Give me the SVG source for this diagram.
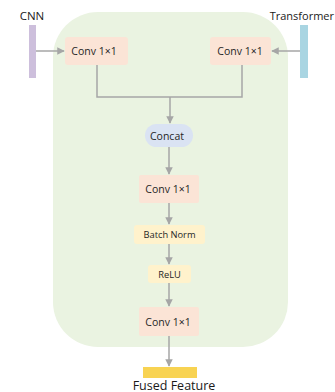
<svg xmlns="http://www.w3.org/2000/svg" width="335" height="392" viewBox="0 0 335 392">
<defs>
<style>
text{font-family:"Open Sans","Liberation Sans",sans-serif;fill:#262626;text-anchor:middle;dominant-baseline:central}
.lbl{font-size:10.5px}
.sm{font-size:9.3px}
.big{font-size:11.5px;fill:#1a1a1a}
.conv{fill:#fbe4d6}
.conn{fill:none;stroke:#a6a6a6;stroke-width:1.5}
</style>
<marker id="ah" viewBox="0 0 10 10" refX="9" refY="5" markerWidth="5" markerHeight="5" orient="auto">
<path d="M0,0 L10,5 L0,10 z" fill="#a6a6a6"/>
</marker>
</defs>
<rect width="335" height="392" fill="#ffffff"/>
<g id="region">
<rect x="53" y="12" width="235" height="335" rx="45" ry="45" fill="#eaf3e1"/>
</g>
<g id="connectors">
<line class="conn" x1="36" y1="51" x2="64" y2="51" marker-end="url(#ah)"/>
<line class="conn" x1="300" y1="51" x2="272" y2="51" marker-end="url(#ah)"/>
<polyline class="conn" points="97,65 97,97 242,97 242,65"/>
<line class="conn" x1="170" y1="97" x2="170" y2="123" marker-end="url(#ah)"/>
<line class="conn" x1="169" y1="147" x2="169" y2="174" marker-end="url(#ah)"/>
<line class="conn" x1="169" y1="203" x2="169" y2="224" marker-end="url(#ah)"/>
<line class="conn" x1="169" y1="244" x2="169" y2="264" marker-end="url(#ah)"/>
<line class="conn" x1="169" y1="283" x2="169" y2="306" marker-end="url(#ah)"/>
<line class="conn" x1="169" y1="336" x2="169" y2="366" marker-end="url(#ah)"/>
</g>
<g id="cnn">
<rect x="29" y="25" width="7" height="53" fill="#cdbfdc"/>
<text class="big" x="32" y="15">CNN</text>
</g>
<g id="transformer">
<rect x="300" y="25" width="8" height="53" fill="#a9d5e2"/>
<text class="big" x="334" y="15" style="text-anchor:end;font-size:11px">Transformer</text>
</g>
<g id="conv-left">
<rect class="conv" x="65" y="37" width="63" height="28" rx="3"/>
<text class="lbl" x="94" y="51">Conv 1×1</text>
</g>
<g id="conv-right">
<rect class="conv" x="210" y="37" width="61" height="28" rx="3"/>
<text class="lbl" x="240" y="51">Conv 1×1</text>
</g>
<g id="concat">
<rect x="145" y="124" width="48" height="23" rx="11.5" fill="#dae3f3"/>
<text class="lbl" x="167" y="135.5">Concat</text>
</g>
<g id="conv-mid">
<rect class="conv" x="139" y="175" width="60" height="28" rx="2"/>
<text class="lbl" x="168" y="189">Conv 1×1</text>
</g>
<g id="batchnorm">
<rect x="134" y="225" width="71" height="19" rx="3" fill="#fff2cc"/>
<text class="sm" x="169.5" y="234.5">Batch Norm</text>
</g>
<g id="relu">
<rect x="148" y="265" width="43" height="18" rx="3" fill="#fff2cc"/>
<text class="sm" x="169.5" y="274">ReLU</text>
</g>
<g id="conv-bottom">
<rect class="conv" x="139" y="307" width="60" height="29" rx="2"/>
<text class="lbl" x="168" y="321.5">Conv 1×1</text>
</g>
<g id="fused">
<rect x="143" y="367" width="54" height="11" fill="#f8d352"/>
<text class="big" x="174" y="385" style="font-size:12.5px">Fused Feature</text>
</g>
</svg>
